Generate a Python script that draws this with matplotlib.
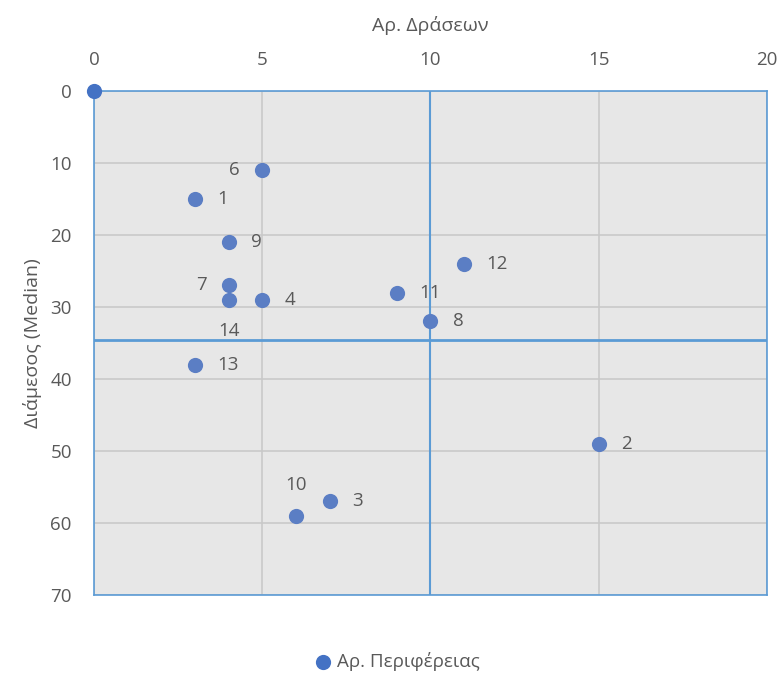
import numpy as np
import matplotlib.pyplot as plt

plt.rcParams['font.family'] = ['Open Sans', 'DejaVu Sans']

# data: number of actions (x) vs median (y) per region
regions = ['1', '2', '3', '4', '6', '7', '8', '9', '10', '11', '12', '13', '14']
actions = [3, 15, 7, 5, 5, 4, 10, 4, 6, 9, 11, 3, 4]
medians = [15, 49, 57, 29, 11, 27, 32, 21, 59, 28, 24, 38, 29]
label_pos = ['r', 'r', 'r', 'r', 'l', 'l', 'r', 'r', 't', 'r', 'r', 'r', 'b']
x_split = 10
y_split = 34.6

text_col = '#595959'
fig = plt.figure(figsize=(7.84, 6.76), dpi=100)
ax = fig.add_axes([0.12, 0.1198, 0.858, 0.7456])
ax.set_facecolor('#e7e7e7')

ax.set_xlim(0, 20)
ax.set_ylim(70, 0)
ax.xaxis.tick_top()
ax.xaxis.set_label_position('top')
ax.set_xticks(np.arange(0, 21, 5))
ax.set_yticks(np.arange(0, 71, 10))
ax.grid(True, color='#c9c9c9', linewidth=1.2)
ax.set_axisbelow(True)
ax.tick_params(axis='x', length=0, labelsize=13.5, labelcolor=text_col, pad=16)
ax.tick_params(axis='y', length=0, labelsize=13.5, labelcolor=text_col, pad=16)
for s in ax.spines.values():
    s.set_color('#5b9bd5')
    s.set_linewidth(1.2)

ax.axvline(x_split, color='#5b9bd5', linewidth=1.5, zorder=2)
ax.axhline(y_split, color='#5b9bd5', linewidth=2, zorder=2)

ax.scatter(actions, medians, s=120, color='#5b7ec4', zorder=3, linewidths=0)
ax.scatter([0], [0], s=120, color='#4472c4', zorder=4, linewidths=0,
           clip_on=False, label='Αρ. Περιφέρειας')

offs = {'r': ((16, 0), 'left', 'center'), 'l': ((-16, 0), 'right', 'center'),
        't': ((0, 16), 'center', 'bottom'), 'b': ((0, -16), 'center', 'top')}
for lab, x, y, p in zip(regions, actions, medians, label_pos):
    o, ha, va = offs[p]
    ax.annotate(lab, (x, y), xytext=o, textcoords='offset points',
                ha=ha, va=va, fontsize=13.5, color=text_col)

ax.set_xlabel('Αρ. Δράσεων', fontsize=14, color=text_col, labelpad=14)
ax.set_ylabel('Διάμεσος (Median)', fontsize=14, color=text_col, labelpad=6)

leg = fig.legend(loc='lower center', bbox_to_anchor=(0.5, -0.018), frameon=False,
                 fontsize=13.5, handletextpad=-0.3, markerscale=1.0)
for t in leg.get_texts():
    t.set_color(text_col)

fig.savefig('out.png', dpi=100)
